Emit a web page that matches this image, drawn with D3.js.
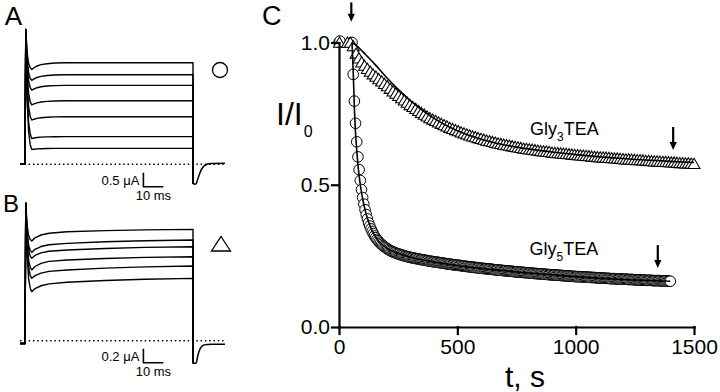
<!DOCTYPE html>
<html><head><meta charset="utf-8">
<script src="https://cdn.jsdelivr.net/npm/d3@7"></script>
<style>
html,body{margin:0;padding:0;background:#fff;}
svg{display:block;font-family:"Liberation Sans",Arial,Helvetica,sans-serif;}
</style></head><body>
<svg id="chart" width="720" height="392"></svg>
<script>
// ===================== Panel C data =====================
const xTicks = [0, 500, 1000, 1500];
const yTicks = [0, 0.5, 1.0];

// Gly3TEA (triangles), sampled every 12 s from t = 36 s
const gly3StartT = 36, gly3StepT = 12;
const gly3Values = [
1.000,1.000,0.988,0.962,0.945,0.931,0.919,0.908,0.898,0.889,
0.881,0.872,0.864,0.855,0.847,0.838,0.829,0.821,0.813,0.805,
0.797,0.789,0.781,0.774,0.767,0.760,0.753,0.747,0.741,0.735,
0.730,0.725,0.720,0.715,0.710,0.706,0.701,0.697,0.693,0.689,
0.685,0.681,0.678,0.674,0.671,0.668,0.665,0.662,0.659,0.656,
0.654,0.651,0.649,0.646,0.644,0.642,0.640,0.638,0.636,0.634,
0.632,0.630,0.628,0.627,0.625,0.624,0.622,0.621,0.619,0.618,
0.617,0.616,0.614,0.613,0.612,0.611,0.610,0.609,0.608,0.607,
0.606,0.605,0.604,0.603,0.602,0.601,0.600,0.599,0.598,0.597,
0.597,0.596,0.595,0.594,0.593,0.593,0.592,0.591,0.590,0.590,
0.589,0.588,0.587,0.587,0.586,0.585,0.585,0.584,0.583,0.583,
0.582,0.581,0.581,0.580,0.579,0.579,0.578,0.577,0.577,0.576,
0.576,0.575,0.574];
const gly3PreT = [2];
const gly3PreV = [1.0];

// Gly5TEA (circles), sampled every 5 s from t = 55 s
const gly5StartT = 55, gly5StepT = 5;
const gly5Values = [
1.000,0.888,0.794,0.716,0.651,0.598,0.553,0.515,0.483,0.455,
0.432,0.412,0.395,0.380,0.366,0.355,0.345,0.336,0.328,0.320,
0.314,0.308,0.303,0.298,0.294,0.290,0.286,0.283,0.280,0.277,
0.274,0.272,0.269,0.267,0.265,0.263,0.262,0.260,0.258,0.257,
0.256,0.254,0.253,0.252,0.250,0.249,0.248,0.247,0.246,0.245,
0.244,0.243,0.242,0.241,0.241,0.240,0.239,0.238,0.237,0.237,
0.236,0.235,0.234,0.234,0.233,0.232,0.231,0.231,0.230,0.229,
0.229,0.228,0.228,0.227,0.226,0.226,0.225,0.224,0.224,0.223,
0.222,0.222,0.221,0.221,0.220,0.219,0.219,0.218,0.218,0.217,
0.217,0.216,0.216,0.215,0.214,0.214,0.213,0.213,0.212,0.212,
0.211,0.211,0.210,0.210,0.209,0.209,0.208,0.208,0.207,0.207,
0.206,0.206,0.205,0.205,0.205,0.204,0.204,0.203,0.203,0.202,
0.202,0.201,0.201,0.201,0.200,0.200,0.199,0.199,0.198,0.198,
0.198,0.197,0.197,0.196,0.196,0.196,0.195,0.195,0.194,0.194,
0.194,0.193,0.193,0.192,0.192,0.192,0.191,0.191,0.191,0.190,
0.190,0.190,0.189,0.189,0.188,0.188,0.188,0.187,0.187,0.187,
0.187,0.186,0.186,0.185,0.185,0.185,0.184,0.184,0.184,0.183,
0.183,0.183,0.182,0.182,0.182,0.182,0.181,0.181,0.181,0.180,
0.180,0.180,0.179,0.179,0.179,0.179,0.178,0.178,0.178,0.177,
0.177,0.177,0.177,0.177,0.176,0.176,0.176,0.176,0.175,0.175,
0.175,0.175,0.174,0.174,0.174,0.174,0.173,0.173,0.173,0.173,
0.172,0.172,0.172,0.172,0.171,0.171,0.171,0.171,0.170,0.170,
0.170,0.170,0.170,0.169,0.169,0.169,0.169,0.169,0.168,0.168,
0.168,0.168,0.168,0.167,0.167,0.167,0.167,0.167,0.166,0.166,
0.166,0.166,0.166,0.165,0.165,0.165,0.165,0.165,0.164,0.164,
0.164,0.164,0.164,0.164,0.163,0.163,0.163,0.163,0.163,0.163,
0.163,0.162,0.162,0.162,0.162,0.162,0.162,0.161,0.161,0.161];
const gly5PreT = [0, 4];
const gly5PreV = [1.0, 1.005];

// fitted curves (knots)
const gly3FitT = [55,80,100,150,200,250,300,350,400,450,500,600,700,800,900,1000,1200,1400,1500];
const gly3FitV = [1.0,0.985,0.968,0.925,0.878,0.835,0.797,0.763,0.734,0.71,0.69,0.66,0.64,0.626,0.615,0.606,0.592,0.582,0.578];
const gly5FitT = [55,60,65,70,75,80,90,100,110,120,135,150,170,200,250,300,400,500,600,800,1000,1200,1400];
const gly5FitV = [1.0,0.90,0.77,0.68,0.62,0.57,0.50,0.45,0.412,0.382,0.348,0.323,0.300,0.278,0.259,0.246,0.229,0.216,0.206,0.19,0.177,0.167,0.161];

// arrows: time, tip value, tail value
const arrowT = [52, 1412, 1347];
const arrowTip = [1.073, 0.622, 0.207];
const arrowTail = [1.141, 0.703, 0.288];

const seriesLabels = ["Gly", "Gly"];
const seriesSubs = ["3", "5"];
const labelT = [807, 805];
const labelV = [0.675, 0.253];

// ===================== Panels A & B data =====================
const traceTimesA = [-2.5, 0, 0.4, 1.0, 1.8, 2.6, 3.4, 4.5, 6, 8, 11, 15, 20, 84];
const tracesA = [
 [0,0,4.82,4.03,3.60,3.45,3.39,3.45,3.51,3.56,3.59,3.62,3.625,3.63],
 [0,0,4.82,3.82,3.27,3.07,3.00,3.05,3.10,3.14,3.17,3.188,3.196,3.20],
 [0,0,4.82,3.63,2.98,2.74,2.65,2.69,2.735,2.77,2.795,2.81,2.817,2.82],
 [0,0,4.82,3.34,2.53,2.23,2.12,2.16,2.195,2.225,2.248,2.261,2.267,2.27],
 [0,0,4.82,3.04,2.07,1.71,1.58,1.61,1.64,1.664,1.682,1.693,1.698,1.70],
 [0,0,4.82,2.68,1.51,1.08,0.92,0.94,0.955,0.969,0.98,0.986,0.989,0.99],
 [0,0,4.82,2.46,1.17,0.70,0.53,0.54,0.55,0.558,0.564,0.568,0.57,0.57]];
const tailTimes = [84, 85.5, 86.5, 87.5, 88.5, 89.5, 91, 93, 100];
const tailA = [-0.70,-0.70,-0.50,-0.30,-0.15,-0.06,0.0,0.03,0.04];

const traceTimesB = [-2.5, 0, 0.4, 1.0, 1.8, 2.6, 3.4, 5, 8, 12, 21, 40, 60, 84];
const tracesB = [
 [-0.04,-0.04,1.963,1.667,1.505,1.446,1.424,1.47,1.51,1.535,1.557,1.573,1.583,1.591],
 [-0.04,-0.04,1.963,1.577,1.367,1.29,1.262,1.305,1.345,1.37,1.391,1.413,1.428,1.439],
 [-0.04,-0.04,1.963,1.53,1.295,1.208,1.177,1.218,1.255,1.278,1.296,1.318,1.333,1.343],
 [-0.04,-0.04,1.963,1.44,1.153,1.048,1.01,1.06,1.105,1.133,1.153,1.175,1.19,1.2],
 [-0.04,-0.04,1.963,1.374,1.052,0.934,0.891,0.93,0.965,0.99,1.01,1.037,1.055,1.067],
 [-0.04,-0.04,1.963,1.268,0.889,0.75,0.70,0.745,0.785,0.812,0.834,0.86,0.878,0.891]];
const tailB = [-0.323,-0.323,-0.20,-0.12,-0.08,-0.06,-0.055,-0.05,-0.05];

const scaleBarA = {t: 59.2, dt: 10, i: -0.8, di: 0.5, label: "0.5 \u03BCA", tlabel: "10 ms"};
const scaleBarB = {t: 59.2, dt: 10, i: -0.314, di: 0.2, label: "0.2 \u03BCA", tlabel: "10 ms"};

// ===================== Drawing =====================
const svg = d3.select("#chart");
const FONT = '"Liberation Sans",Arial,Helvetica,sans-serif';

// ---------- Panel C ----------
const xC = d3.scaleLinear().domain([0,1500]).range([339,694]);
const yC = d3.scaleLinear().domain([0,1]).range([327,42.5]);

const gC = svg.append("g");

const gly5Pts = gly5PreT.map((t,i)=>[t,gly5PreV[i]])
  .concat(gly5Values.map((v,i)=>[gly5StartT + i*gly5StepT, v]));
const gly3Pts = gly3PreT.map((t,i)=>[t,gly3PreV[i]])
  .concat(gly3Values.map((v,i)=>[gly3StartT + i*gly3StepT, v]));

gC.append("g").selectAll("circle").data(gly5Pts).join("circle")
  .attr("cx", d=>xC(d[0])).attr("cy", d=>yC(d[1])).attr("r", 5.3)
  .attr("fill","#fff").attr("stroke","#000").attr("stroke-width",1.0);

const triPath = "M0,-5.4L6,4.8L-6,4.8Z";
gC.append("g").selectAll("path").data(gly3Pts).join("path")
  .attr("d", triPath)
  .attr("transform", d=>`translate(${xC(d[0])},${yC(d[1])})`)
  .attr("fill","#fff").attr("stroke","#000").attr("stroke-width",1.05);

const lineC = d3.line().x(d=>xC(d[0])).y(d=>yC(d[1])).curve(d3.curveMonotoneX);
gC.append("path").datum(gly3FitT.map((t,i)=>[t,gly3FitV[i]]))
  .attr("d", lineC).attr("fill","none").attr("stroke","#000").attr("stroke-width",1.6);
gC.append("path").datum(gly5FitT.map((t,i)=>[t,gly5FitV[i]]))
  .attr("d", lineC).attr("fill","none").attr("stroke","#000").attr("stroke-width",1.6);

// axes
const axX = gC.append("g").attr("transform","translate(0,327)")
  .call(d3.axisBottom(xC).tickValues(xTicks).tickSize(7).tickSizeOuter(0).tickPadding(5).tickFormat(d3.format("d")));
const axY = gC.append("g").attr("transform","translate(339,0)")
  .call(d3.axisLeft(yC).tickValues(yTicks).tickSize(7).tickSizeOuter(0).tickPadding(2).tickFormat(d3.format(".1f")));
[axX, axY].forEach(a=>{
  a.attr("font-family", FONT).attr("font-size", 21);
  a.selectAll("path,line").attr("stroke","#000").attr("stroke-width",2.2).attr("stroke-linecap","square");
  a.selectAll("text").attr("fill","#000");
});

// arrows
arrowT.forEach((t,i)=>{
  const x = xC(t), y1 = yC(arrowTail[i]), y2 = yC(arrowTip[i]);
  gC.append("line").attr("x1",x).attr("x2",x).attr("y1",y1).attr("y2",y2-6)
    .attr("stroke","#000").attr("stroke-width",2.2);
  gC.append("path").attr("d",`M${x-3.6},${y2-8}L${x+3.6},${y2-8}L${x},${y2}Z`).attr("fill","#000");
});

// series labels
seriesLabels.forEach((s,i)=>{
  const tx = gC.append("text").attr("x", xC(labelT[i])).attr("y", yC(labelV[i]))
    .attr("font-size", 18).attr("fill","#000");
  tx.append("tspan").text(s);
  tx.append("tspan").attr("font-size",12).attr("dy",6).text(seriesSubs[i]);
  tx.append("tspan").attr("dy",-6).text("TEA");
});

// axis titles
const yt = svg.append("text").attr("x",276).attr("y",125).attr("font-size",32).attr("fill","#000");
yt.append("tspan").text("I/I");
yt.append("tspan").attr("font-size",16).attr("dy",12).attr("dx",1).text("0");
svg.append("text").attr("x",505).attr("y",387).attr("font-size",30).attr("fill","#000").text("t, s");

// panel letters
svg.append("text").attr("x",22).attr("y",25).attr("text-anchor","end").attr("font-size",26).text("A");
svg.append("text").attr("x",19).attr("y",212).attr("text-anchor","end").attr("font-size",24).text("B");
svg.append("text").attr("x",262).attr("y",25).attr("font-size",27).text("C");

// ---------- Panels A & B ----------
function drawTraces(times, traces, tail, yScale, bar, markerFn) {
  const xS = d3.scaleLinear().domain([0,84]).range([25,193]);
  const g = svg.append("g");
  const ln = d3.line().x(d=>xS(d[0])).y(d=>yScale(d[1]));
  g.append("line").attr("x1",xS(-2.5)).attr("x2",xS(100)).attr("y1",yScale(0)).attr("y2",yScale(0))
    .attr("stroke","#000").attr("stroke-width",1.5).attr("stroke-dasharray","1.5,2.8");
  traces.forEach(tr=>{
    const pts = times.map((t,i)=>[t,tr[i]]);
    pts.push([tailTimes[0], tail[0]]);
    g.append("path").datum(pts).attr("d",ln).attr("fill","none")
      .attr("stroke","#000").attr("stroke-width",1.4).attr("stroke-linejoin","round");
  });
  g.append("path").datum(tailTimes.map((t,i)=>[t,tail[i]])).attr("d",ln.curve(d3.curveMonotoneX))
    .attr("fill","none").attr("stroke","#000").attr("stroke-width",1.5);
  const bx = xS(bar.t), by = yScale(bar.i);
  g.append("path").attr("d",`M${bx},${yScale(bar.i+bar.di)}V${by}H${xS(bar.t+bar.dt)}`)
    .attr("fill","none").attr("stroke","#000").attr("stroke-width",1.6);
  g.append("text").attr("x",bx-4).attr("y",by-2).attr("text-anchor","end").attr("font-size",13).text(bar.label);
  g.append("text").attr("x",(bx+xS(bar.t+bar.dt))/2).attr("y",by+13).attr("text-anchor","middle").attr("font-size",13).text(bar.tlabel);
  markerFn(g);
}

const yA = d3.scaleLinear().domain([0,1]).range([164.3,136.3]);
drawTraces(traceTimesA, tracesA, tailA, yA, scaleBarA, g=>{
  g.append("circle").attr("cx",220).attr("cy",70).attr("r",7.5)
    .attr("fill","none").attr("stroke","#000").attr("stroke-width",1.3);
});
const yB = d3.scaleLinear().domain([0,1]).range([340.7,270.7]);
drawTraces(traceTimesB, tracesB, tailB, yB, scaleBarB, g=>{
  g.append("path").attr("d","M221,236.5L230.5,251L211.5,251Z")
    .attr("fill","none").attr("stroke","#000").attr("stroke-width",1.3);
});
</script>
</body></html>
